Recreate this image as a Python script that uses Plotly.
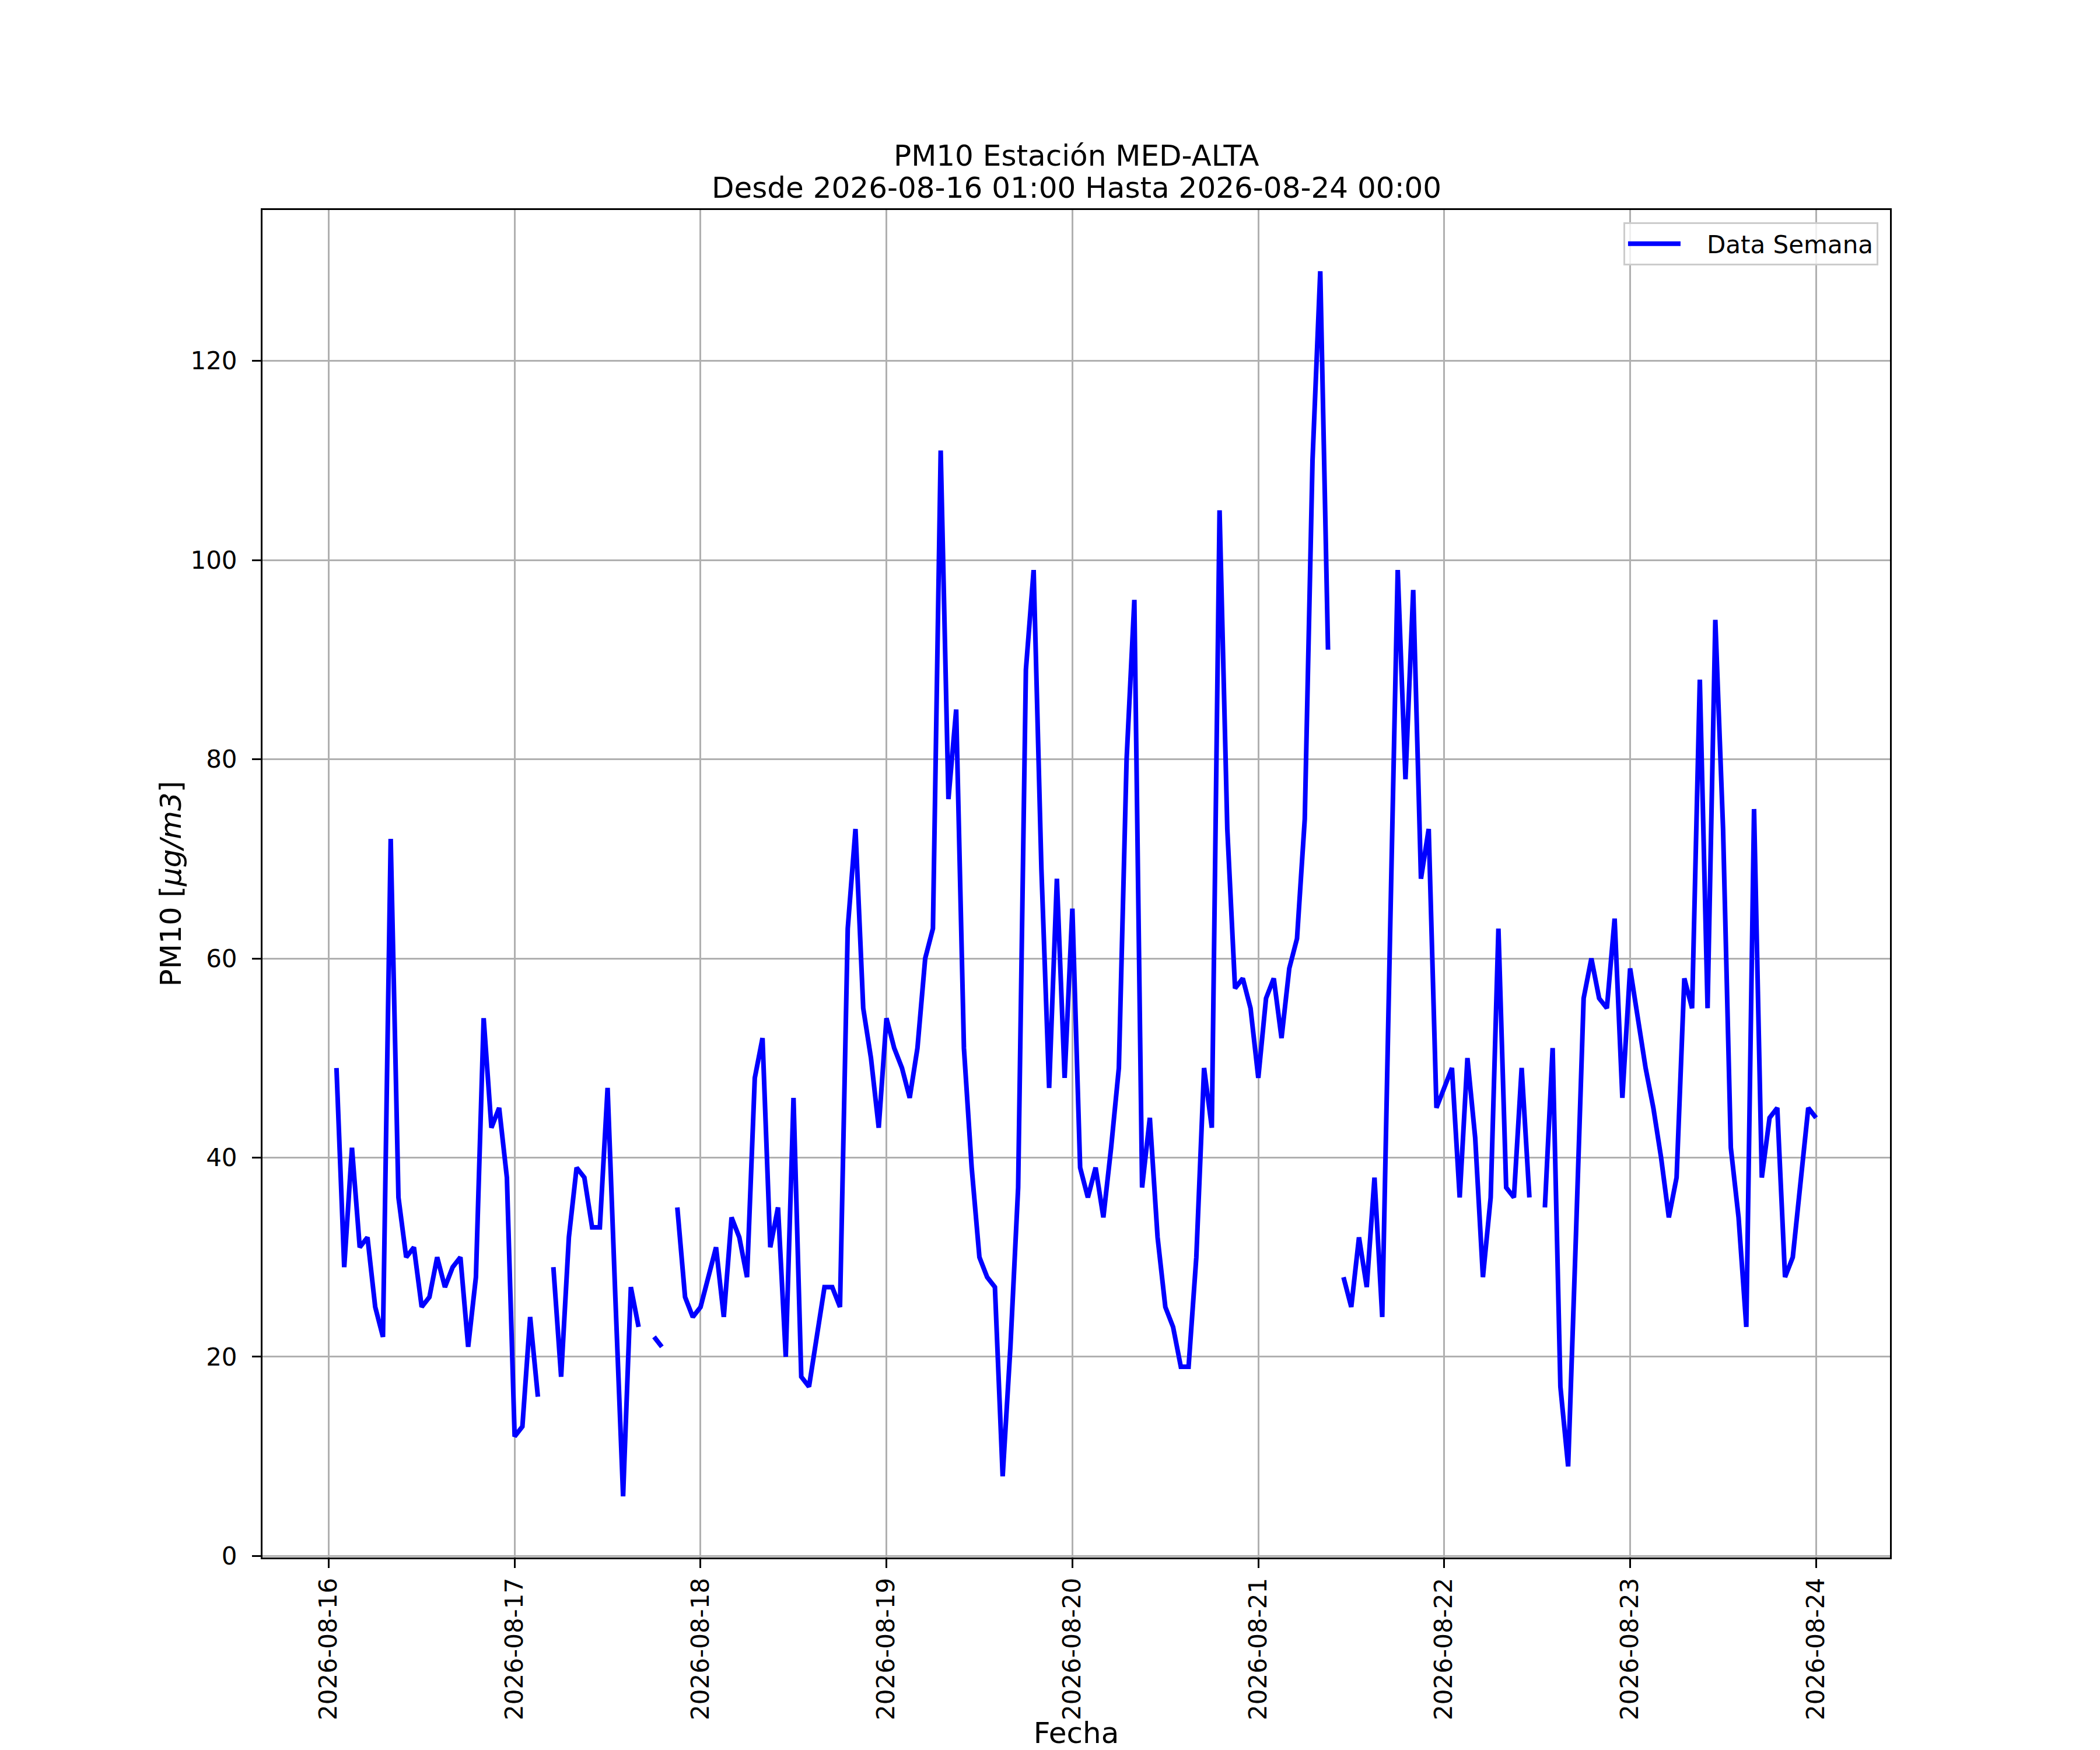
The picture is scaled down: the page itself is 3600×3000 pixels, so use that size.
import pandas as pd
import plotly.graph_objects as go

# ── Data: hourly PM10, 2026-08-16 01:00 → 2026-08-24 00:00 (None = missing) ──
START = "2026-08-16 01:00"
END = "2026-08-24 00:00"

day_16 = [49, 29, 41, 31, 32, 25, 22, 72, 36, 30, 31, 25, 26, 30, 27, 29,
          30, 21, 28, 54, 43, 45, 38]                                  # 01..23
day_17 = [12, 13, 24, 16, None, 29, 18, 32, 39, 38, 33, 33, 47, 26, 6, 27,
          23, None, 22, 21, None, 35, 26, 24]
day_18 = [25, 28, 31, 24, 34, 32, 28, 48, 52, 31, 35, 20, 46, 18, 17, 22,
          27, 27, 25, 63, 73, 55, 50, 43]
day_19 = [54, 51, 49, 46, 51, 60, 63, 111, 76, 85, 51, 39, 30, 28, 27, 8,
          21, 37, 89, 99, 69, 47, 68, 48]
day_20 = [65, 39, 36, 39, 34, 41, 49, 80, 96, 37, 44, 32, 25, 23, 19, 19,
          30, 49, 43, 105, 73, 57, 58, 55]
day_21 = [48, 56, 58, 52, 59, 62, 74, 110, 129, 91, None, 28, 25, 32, 27, 38,
          24, 62, 99, 78, 97, 68, 73, 45]
day_22 = [47, 49, 36, 50, 42, 28, 36, 63, 37, 36, 49, 36, None, 35, 51, 17,
          9, 32, 56, 60, 56, 55, 64, 46]
day_23 = [59, 54, 49, 45, 40, 34, 38, 58, 55, 88, 55, 94, 73, 41, 34, 23,
          75, 38, 44, 45, 28, 30, 37, 45]
day_24 = [44]                                                          # 00

pm10 = day_16 + day_17 + day_18 + day_19 + day_20 + day_21 + day_22 + day_23 + day_24
fechas = pd.date_range(START, END, freq="h")

Y_TICKS = [0, 20, 40, 60, 80, 100, 120]

# ── Geometry (matplotlib-like 12x10in @300dpi) ────────────────────────────────
# the html page has an 8px body margin, so the figure is 8px smaller
OFF = 8
W, H = 3600 - OFF, 3000 - OFF
L, R, T, B = 450 - OFF, 360, 360 - OFF, 330
PLOT_H = H - T - B
FONT = "DejaVu Sans"

# matplotlib-style 5% auto margins
vals = [v for v in pm10 if v is not None]
y_span = max(vals) - min(vals)
y_range = [min(vals) - 0.05 * y_span, max(vals) + 0.05 * y_span]
x_span = fechas[-1] - fechas[0]
x_range = [fechas[0] - 0.05 * x_span, fechas[-1] + 0.05 * x_span]

fig = go.Figure()
fig.add_trace(go.Scatter(
    x=fechas, y=pm10,
    mode="lines",
    name="\u00a0\u00a0\u00a0Data Semana",
    line=dict(color="#0000ff", width=8),
    connectgaps=False,
))

axis_common = dict(
    showline=True, linecolor="black", linewidth=3, mirror=True,
    ticks="outside", ticklen=15, tickwidth=3, tickcolor="black",
    showgrid=True, gridcolor="#b0b0b0", gridwidth=3,
    zeroline=False,
    tickfont=dict(family=FONT, size=42, color="black"),
    automargin=False,
)

fig.update_xaxes(
    **axis_common,
    type="date",
    range=x_range,
    tick0="2026-08-16", dtick=86400000,
    tickformat="%Y-%m-%d",
    tickangle=-90,
    ticklabelstandoff=0,
    title=dict(text="Fecha", font=dict(family=FONT, size=50, color="black"),
               standoff=24),
)
fig.update_yaxes(
    **axis_common,
    range=y_range,
    tickvals=Y_TICKS,
    ticklabelstandoff=17,
    title=dict(text="PM10 [<i>μg/m3</i>]",
               font=dict(family=FONT, size=50, color="black"),
               standoff=0),
)

# two-line title as annotations for tighter line spacing
for txt, px_y in [("PM10 Estación MED-ALTA", 267),
                  ("Desde 2026-08-16 01:00 Hasta 2026-08-24 00:00", 322)]:
    fig.add_annotation(
        text=txt, xref="paper", yref="paper",
        x=0.5, y=(3000 - B - px_y) / PLOT_H,
        xanchor="center", yanchor="middle",
        showarrow=False,
        font=dict(family=FONT, size=50, color="black"),
    )

fig.update_layout(
    width=W, height=H,
    margin=dict(l=L, r=R, t=T, b=B, pad=0),
    paper_bgcolor="white", plot_bgcolor="white",
    font=dict(family=FONT, size=42, color="black"),
    showlegend=True,
    legend=dict(
        x=0.9928, y=0.9909, xanchor="right", yanchor="top",
        bgcolor="rgba(255,255,255,0.8)",
        bordercolor="#cccccc", borderwidth=3,
        font=dict(family=FONT, size=42, color="black"),
        itemwidth=90,
    ),
)

fig.write_html("out.html")
